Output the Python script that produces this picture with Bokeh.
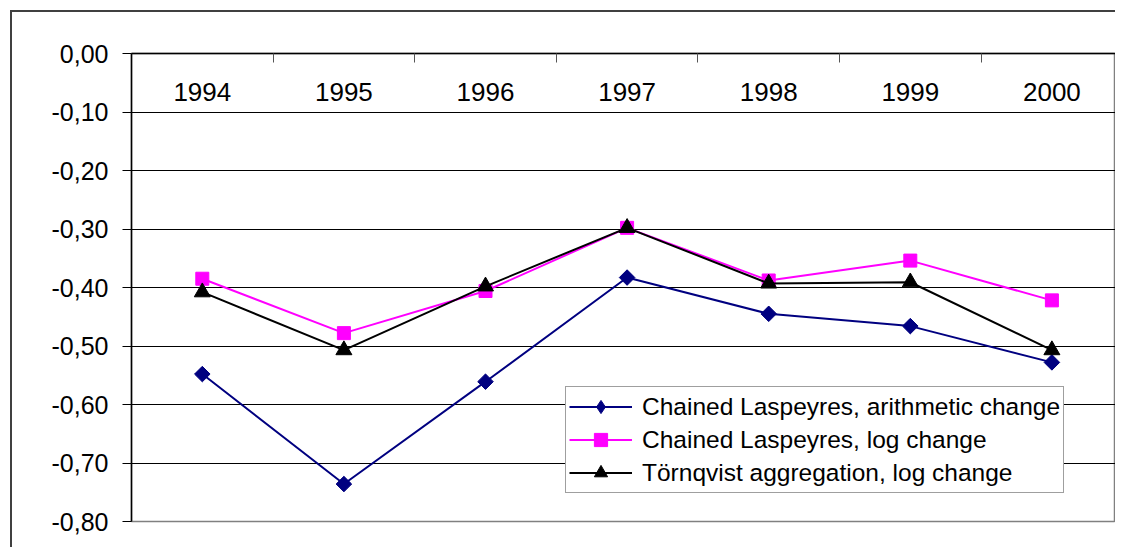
import math
from bokeh.plotting import figure
from bokeh.models import (FixedTicker, CustomJSTickFormatter, Range1d, Legend, LegendItem,
                          ColumnDataSource)
from bokeh.core.properties import value
from bokeh.embed import file_html
from bokeh.resources import INLINE

years = [1994, 1995, 1996, 1997, 1998, 1999, 2000]
laspeyres_arith = [-0.548, -0.736, -0.561, -0.383, -0.445, -0.466, -0.528]
laspeyres_log = [-0.385, -0.478, -0.406, -0.298, -0.388, -0.354, -0.422]
tornqvist_log = [-0.408, -0.507, -0.398, -0.298, -0.393, -0.391, -0.507]
y_ticks = [0.0, -0.1, -0.2, -0.3, -0.4, -0.5, -0.6, -0.7, -0.8]
series_names = ["Chained Laspeyres, arithmetic change",
                "Chained Laspeyres, log change",
                "Törnqvist aggregation, log change"]

FONT = "Liberation Sans"
W, H = 1115, 547
LEFT, TOP, BOTTOM = 131, 53, 26
CELL = 141.6  # pixel width of one year slot in the reference
span = (W - LEFT) / CELL

p = figure(width=W, height=H, output_backend="svg", toolbar_location=None,
           x_axis_location="above",
           x_range=Range1d(years[0] - 0.5, years[0] - 0.5 + span),
           y_range=Range1d(-0.8, 0.0),
           min_border_left=LEFT, min_border_right=0, min_border_top=TOP,
           min_border_bottom=BOTTOM)
p.background_fill_color = "white"
p.border_fill_alpha = 0
p.outline_line_color = "#808080"
p.outline_line_width = 1.5
# outer chart frame: only its top and left edges fall inside the window
p.styles = {
    "background-color": "white",
    "background-image": "linear-gradient(#404040, #404040), linear-gradient(#404040, #404040)",
    "background-size": "2px 100%, 100% 2px",
    "background-position": "10px 10px, 10px 10px",
    "background-repeat": "no-repeat",
}

# y axis
p.yaxis.ticker = FixedTicker(ticks=y_ticks)
p.yaxis.formatter = CustomJSTickFormatter(code="return tick.toFixed(2).replace('-0.00','0.00').replace('.', ',');")
p.yaxis.major_tick_out = 9
p.yaxis.major_tick_in = 0
p.yaxis.minor_tick_line_color = None
p.yaxis.axis_line_color = "black"
p.yaxis.axis_line_width = 1.5
p.yaxis.major_tick_line_color = "black"
p.yaxis.major_label_standoff = 14
p.yaxis.major_label_text_font = FONT
p.yaxis.major_label_text_font_size = "25px"
p.yaxis.major_label_text_color = "black"

# x axis (top) with category-boundary ticks pointing inward
p.xaxis.ticker = FixedTicker(ticks=[y + 0.5 for y in years[:-1]])
p.xaxis.formatter = CustomJSTickFormatter(code="return '';")
p.xaxis.major_tick_in = 9
p.xaxis.major_tick_out = 0
p.xaxis.minor_tick_line_color = None
p.xaxis.axis_line_color = "black"
p.xaxis.axis_line_width = 1.5
p.xaxis.major_tick_line_color = "#555555"

# grid
p.xgrid.grid_line_color = None
p.ygrid.ticker = FixedTicker(ticks=y_ticks[1:-1])
p.ygrid.grid_line_color = "black"
p.ygrid.grid_line_width = 1

# year labels inside the plot, below the top axis
p.text(x=years, y=[-0.065] * len(years), text=[str(y) for y in years],
       text_font=value(FONT), text_font_size="26px", text_color="black",
       text_align="center", text_baseline="middle")

colors = ["#000080", "#FF00FF", "#000000"]
items = []

# Chained Laspeyres, arithmetic change: diamonds
src_a = ColumnDataSource(dict(x=years, y=laspeyres_arith))
ln_a = p.line("x", "y", source=src_a, line_color=colors[0], line_width=2)
sw_a = p.scatter("x", "y", source=src_a, marker="diamond", size=14,
                 fill_color=colors[0], line_color=colors[0])
p.scatter("x", "y", source=src_a, marker="square", size=11, angle=math.pi / 4,
          fill_color=colors[0], line_color=colors[0])
items.append(LegendItem(label=series_names[0], renderers=[ln_a, sw_a]))

# Chained Laspeyres, log change: squares
src_l = ColumnDataSource(dict(x=years, y=laspeyres_log))
ln_l = p.line("x", "y", source=src_l, line_color=colors[1], line_width=2)
sc_l = p.scatter("x", "y", source=src_l, marker="square", size=13,
                 fill_color=colors[1], line_color=colors[1])
items.append(LegendItem(label=series_names[1], renderers=[ln_l, sc_l]))

# Törnqvist aggregation, log change: triangles
src_t = ColumnDataSource(dict(x=years, y=tornqvist_log))
ln_t = p.line("x", "y", source=src_t, line_color=colors[2], line_width=2)
sc_t = p.scatter("x", "y", source=src_t, marker="triangle", size=16,
                 fill_color=colors[2], line_color=colors[2])
items.append(LegendItem(label=series_names[2], renderers=[ln_t, sc_t]))

legend = Legend(items=items, location=(434, 28))
legend.label_text_font = FONT
legend.label_text_font_size = "24.5px"
legend.label_text_color = "black"
legend.glyph_width = 63
legend.glyph_height = 33
legend.label_height = 33
legend.label_standoff = 10
legend.spacing = 0
legend.padding = 3
legend.margin = 0
legend.border_line_color = "#404040"
legend.border_line_width = 1.5
legend.background_fill_color = "white"
legend.background_fill_alpha = 1
p.add_layout(legend, "center")

open("out.html", "w").write(file_html(p, INLINE))
